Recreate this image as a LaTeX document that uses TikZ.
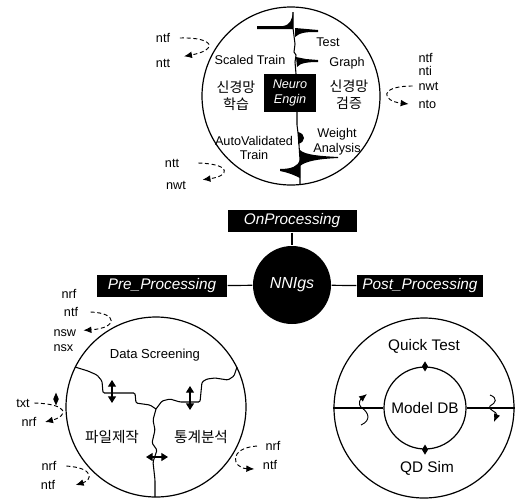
\documentclass[tikz,border=0pt]{standalone}
\usepackage{fontspec}
\setmainfont{Liberation Sans}
\newfontfamily\kofont{Noto Sans CJK KR}
\usetikzlibrary{arrows.meta, positioning, shapes.geometric}

\begin{document}
\begin{tikzpicture}[
  x=0.75pt, y=-0.75pt,
  line width=0.9pt,
  lbl/.style={font=\fontsize{9.5}{10}\selectfont, inner sep=0pt},
  word/.style={font=\fontsize{9.5}{11}\selectfont, inner sep=0pt, align=center},
  big/.style={font=\fontsize{11.5}{13}\selectfont, inner sep=0pt},
  kor/.style={font=\kofont\fontsize{10.5}{12.5}\selectfont, inner sep=0pt, align=center},
  blackbox/.style={rectangle, fill=black, text=white, inner sep=0pt,
                   font=\fontsize{11.5}{13}\selectfont\itshape, minimum height=16.5pt},
  ring/.style={circle, draw, inner sep=0pt},
  flow/.style={dash pattern=on 3pt off 2pt, line width=0.7pt, -{Latex[length=6pt,width=5pt]}},
  dbl/.style={{Triangle[length=5pt,width=6pt]}-{Triangle[length=5pt,width=6pt]}, line width=0.9pt},
  wave/.style={line width=0.7pt, -{Latex[length=6pt,width=5pt]}},
  pin/.style={diamond, fill=black, inner sep=0pt}
]
  \useasboundingbox (0,0) rectangle (516,500);

  % neuro engine circle
  \node[ring, minimum size=133.5pt] (neural) at (291,96) {};
  \node[rectangle, fill=black, text=white, minimum width=39pt, minimum height=28.5pt,
        inner sep=0pt, align=center, font=\fontsize{9.5}{11.5}\selectfont\itshape]
        (engine) at (290,93) {Neuro\\Engin};
  \node[word] (test)   at (328,42)  {Test};
  \node[word] (scaled) at (250,60)  {Scaled Train};
  \node[word] (graph)  at (347,63)  {Graph};
  \node[kor]  (learn)  at (236,96)  {신경망\\학습};
  \node[kor]  (verify) at (349,95)  {신경망\\검증};
  \node[word] (auto)   at (254,148) {AutoValidated\\Train};
  \node[word] (weight) at (337,142) {Weight\\Analysis};

  % timeline with flags
  \draw[line width=0.8pt] (293,12) -- (293,28) -- (294,36) -- (295,44) -- (294,52)
        -- (296,55) -- (295,62) -- (296,74);
  \draw[line width=0.8pt] (297,112) -- (297,125) -- (298,133) -- (299,145)
        -- (300,160) -- (300,175) -- (300,184);
  \fill (293,12) -- (293,29) -- (257,29) -- (257,26) -- (283,26)
        .. controls (290,25) and (292,20) .. (293,12);
  \fill (295,28) -- (318,30) -- (318,32) .. controls (308,32) and (300,32) .. (295,37) -- cycle;
  \fill (296,57) -- (306,59) -- (318,60) -- (318,62)
        .. controls (308,62) and (300,63) .. (297,67) -- cycle;
  \fill (298,132) .. controls (306,134) and (306,142) .. (298,144) -- cycle;
  \fill (300,150) .. controls (305,155) and (320,156) .. (338,157) -- (338,158)
        .. controls (318,159) and (306,161) .. (300,166) -- cycle;
  \fill (300,160) .. controls (298,166) and (292,169) .. (280,169) -- (280,171)
        .. controls (290,173) and (296,176) .. (300,178) -- cycle;

  % file labels around the neuro circle
  \node[lbl] (tlIn)  at (163,38)  {ntf};
  \node[lbl] (tlOut) at (163,63)  {ntt};
  \node[lbl] (blIn)  at (172,163) {ntt};
  \node[lbl] (blOut) at (176,185) {nwt};
  \node[lbl, anchor=west] (rA)   at (418,58)  {ntf};
  \node[lbl, anchor=west] (rB)   at (418,71)  {nti};
  \node[lbl, anchor=west] (rIn)  at (418,86)  {nwt};
  \node[lbl, anchor=west] (rOut) at (418,104) {nto};
  \draw[flow] ([xshift=7pt]tlIn.east) .. controls (215,37) and (218,50) .. ([xshift=10pt,yshift=5pt]tlOut.east);
  \draw[flow] ([xshift=14pt]blIn.east) .. controls (232,164) and (230,176) .. ([xshift=12pt,yshift=4pt]blOut.east);
  \draw[flow] ([xshift=-4pt]rIn.west) .. controls (378,86) and (382,101) .. ([xshift=-7pt]rOut.west);

  % processing hub
  \node[blackbox, minimum width=96.75pt] (onproc) at (292,221) {OnProcessing};
  \node[circle, fill=black, text=white, minimum size=58.5pt, inner sep=0pt,
        font=\fontsize{12}{14}\selectfont\itshape] (nnigs) at (292,285) {NNIgs};
  \node[blackbox, minimum width=97.5pt] (preproc) at (162,286) {Pre\_Processing};
  \node[blackbox, minimum width=94.5pt] (postproc) at (420,286) {Post\_Processing};
  \draw (onproc) -- (nnigs);
  \draw (preproc) -- (nnigs);
  \draw (nnigs) -- (postproc);

  % pre processing circle
  \node[ring, minimum size=135pt] (prep) at (156,407) {};
  \node[font=\fontsize{9.8}{11}\selectfont, inner sep=0pt] (screen) at (155,355) {Data Screening};
  \node[kor, font=\kofont\fontsize{11}{13}\selectfont] (filemake) at (112,437) {파일제작};
  \node[kor, font=\kofont\fontsize{11}{13}\selectfont] (stats)    at (201,437) {통계분석};
  \draw[line width=0.8pt, rounded corners=1pt] (75,367) -- (88,371) -- (97,375) -- (102,381)
        -- (103,393) -- (135,393) -- (136,403) -- (150,405) -- (156,409);
  \draw[line width=0.8pt, rounded corners=1pt] (156,409) -- (162,401) -- (170,399) -- (180,402)
        -- (200,402) -- (202,382) -- (207,379) -- (215,378) -- (228,380) -- (234,376) -- (237,367);
  \draw[line width=0.8pt, rounded corners=1pt] (156,409) -- (153,420) -- (155,430) -- (152,443)
        -- (157,450) -- (153,462) -- (155,480) -- (155,497);
  \draw[dbl] (112,380) -- (112,403);
  \draw[dbl] (190,386) -- (190,410);
  \draw[dbl] (146,457) -- (168,457);

  \node[lbl] (pA)  at (69,294)  {nrf};
  \node[lbl] (pIn) at (71,312)  {ntf};
  \node[lbl, anchor=west] (pOut) at (53,333) {nsw};
  \node[lbl, anchor=west] (pB)   at (53,348) {nsx};
  \node[lbl] (txtIn)  at (23,403) {txt};
  \node[lbl] (txtOut) at (29,422) {nrf};
  \node[pin, minimum width=4.5pt, minimum height=10pt] (txtPin) at (56,399) {};
  \node[lbl] (lbIn)  at (49,466) {nrf};
  \node[lbl] (lbOut) at (48,485) {ntf};
  \node[lbl] (rbIn)  at (273,446) {nrf};
  \node[lbl] (rbOut) at (270,465) {ntf};
  \draw[flow] ([xshift=9pt]pIn.east) .. controls (118,313) and (118,328) .. ([xshift=5pt,yshift=2pt]pOut.east);
  \draw[flow] ([xshift=3pt]txtIn.east) .. controls (70,404) and (68,416) .. ([xshift=6pt]txtOut.east);
  \draw[flow] ([xshift=7pt]lbIn.east) .. controls (95,468) and (92,480) .. ([xshift=15pt]lbOut.east);
  \draw[flow] ([xshift=-6pt]rbIn.west) .. controls (228,448) and (232,468) .. ([xshift=-6pt,yshift=-3pt]rbOut.west);

  % post processing circle
  \node[ring, minimum size=135pt] (post) at (424,408) {};
  \node[ring, minimum size=61.5pt, font=\fontsize{11.5}{13}\selectfont] (modeldb) at (425,408) {Model DB};
  \node[big] (quick) at (424,346) {Quick Test};
  \node[big] (qdsim) at (427,468) {QD Sim};
  \draw (post.west) -- (modeldb.west);
  \draw (modeldb.east) -- (post.east);
  \node[pin, minimum width=5pt, minimum height=8pt] (dbTop) at (modeldb.north) {};
  \node[pin, minimum width=5pt, minimum height=8pt] (dbBot) at (modeldb.south) {};
  \draw[wave] (361,425) .. controls (372,420) and (368,412) .. (362,408)
        .. controls (356,403) and (362,398) .. (367,394);
  \draw[wave] (490,395) .. controls (498,398) and (496,403) .. (490,406)
        .. controls (486,409) and (498,412) .. (494,422);
\end{tikzpicture}
\end{document}
